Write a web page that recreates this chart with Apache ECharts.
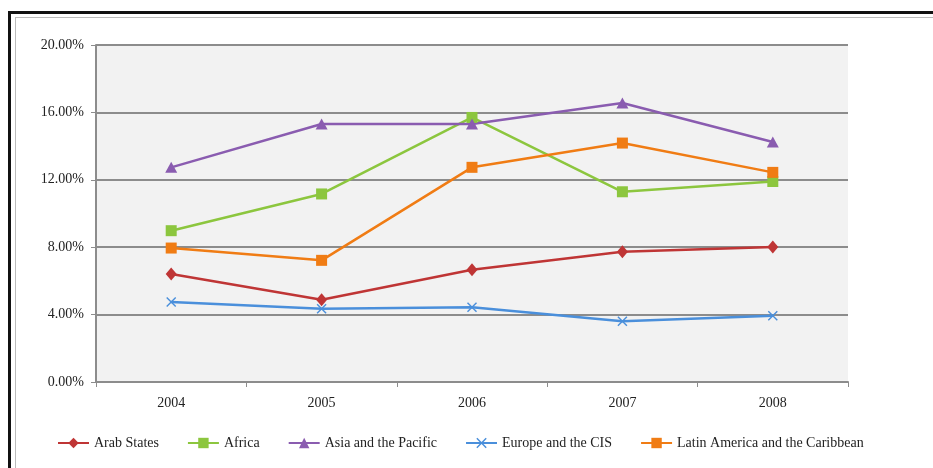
<!DOCTYPE html>
<html>
<head>
<meta charset="utf-8">
<script src="https://cdn.jsdelivr.net/npm/echarts@6/dist/echarts.min.js"></script>
<style>
  html, body { margin: 0; padding: 0; background: #fff; }
  #chart { width: 933px; height: 468px; }
</style>
</head>
<body>
<div id="chart"></div>
<script>
// years on the x axis
var years = ['2004', '2005', '2006', '2007', '2008'];

// values in percent
var arabStates = [6.41, 4.88, 6.66, 7.73, 8.01];
var africa = [8.98, 11.16, 15.70, 11.29, 11.90];
var asiaPacific = [12.74, 15.31, 15.31, 16.56, 14.24];
var europeCIS = [4.75, 4.35, 4.43, 3.60, 3.93];
var latinAmerica = [7.95, 7.22, 12.74, 14.18, 12.44];

var seriesNames = ['Arab States', 'Africa', 'Asia and the Pacific', 'Europe and the CIS', 'Latin America and the Caribbean'];

var color = ['#bf3535', '#8cc63e', '#8a5cb0', '#4a8fdb', '#f07c14'];
var FONT = '"Liberation Serif", "DejaVu Serif", serif';

/* X marker as a filled shape */
var crossPath = 'path://M0,1L1,0L5,4L9,0L10,1L6,5L10,9L9,10L5,6L1,10L0,9L4,5Z';

function lineSeries(name, data, symbol, size) {
    return {
        name: name,
        type: 'line',
        data: data,
        symbol: symbol,
        symbolSize: size,
        showAllSymbol: true,
        lineStyle: { width: 2.5 },
        emphasis: { disabled: true },
        animation: false
    };
}

var chart = echarts.init(document.getElementById('chart'));
var option = {
    color: color,
    textStyle: { fontFamily: FONT },
    grid: {
        left: 96,
        right: 85,
        top: 45,
        bottom: 86,
        show: true,
        backgroundColor: '#f2f2f2',
        borderWidth: 0
    },
    // frame of the surrounding box
    graphic: [
        { type: 'rect', shape: { x: 8, y: 11, width: 925, height: 3 }, style: { fill: '#111' } },
        { type: 'rect', shape: { x: 8, y: 11, width: 3, height: 457 }, style: { fill: '#111' } },
        { type: 'rect', shape: { x: 15, y: 17, width: 918, height: 1 }, style: { fill: '#bbb' } },
        { type: 'rect', shape: { x: 15, y: 17, width: 1, height: 451 }, style: { fill: '#bbb' } }
    ],
    legend: {
        data: seriesNames,
        left: 52,
        top: 431,
        itemWidth: 31,
        itemHeight: 13,
        itemGap: 28,
        itemTextGap: 3,
        textStyle: { fontFamily: FONT, fontSize: 14, color: '#222' }
    },
    xAxis: {
        type: 'category',
        data: years,
        boundaryGap: true,
        axisLine: { lineStyle: { color: '#8c8c8c', width: 2 } },
        axisTick: { show: true, length: 5, lineStyle: { color: '#8c8c8c', width: 1 } },
        axisLabel: { fontFamily: FONT, fontSize: 14, color: '#222', margin: 14 },
        splitLine: { show: false }
    },
    yAxis: {
        type: 'value',
        min: 0,
        max: 20,
        interval: 4,
        axisLine: { show: true, lineStyle: { color: '#8c8c8c', width: 2 } },
        axisTick: { show: true, length: 5, lineStyle: { color: '#8c8c8c', width: 1 } },
        axisLabel: {
            fontFamily: FONT,
            fontSize: 14,
            color: '#222',
            margin: 12,
            formatter: function (value) {
                return value.toFixed(2) + '%';
            }
        },
        splitLine: { show: true, lineStyle: { color: '#8c8c8c', width: 2 } }
    },
    series: [
        lineSeries(seriesNames[0], arabStates, 'diamond', [11, 13]),
        lineSeries(seriesNames[1], africa, 'rect', 11),
        lineSeries(seriesNames[2], asiaPacific, 'triangle', [12, 11]),
        lineSeries(seriesNames[3], europeCIS, crossPath, 10),
        lineSeries(seriesNames[4], latinAmerica, 'rect', 11)
    ]
};
chart.setOption(option);
</script>
</body>
</html>
